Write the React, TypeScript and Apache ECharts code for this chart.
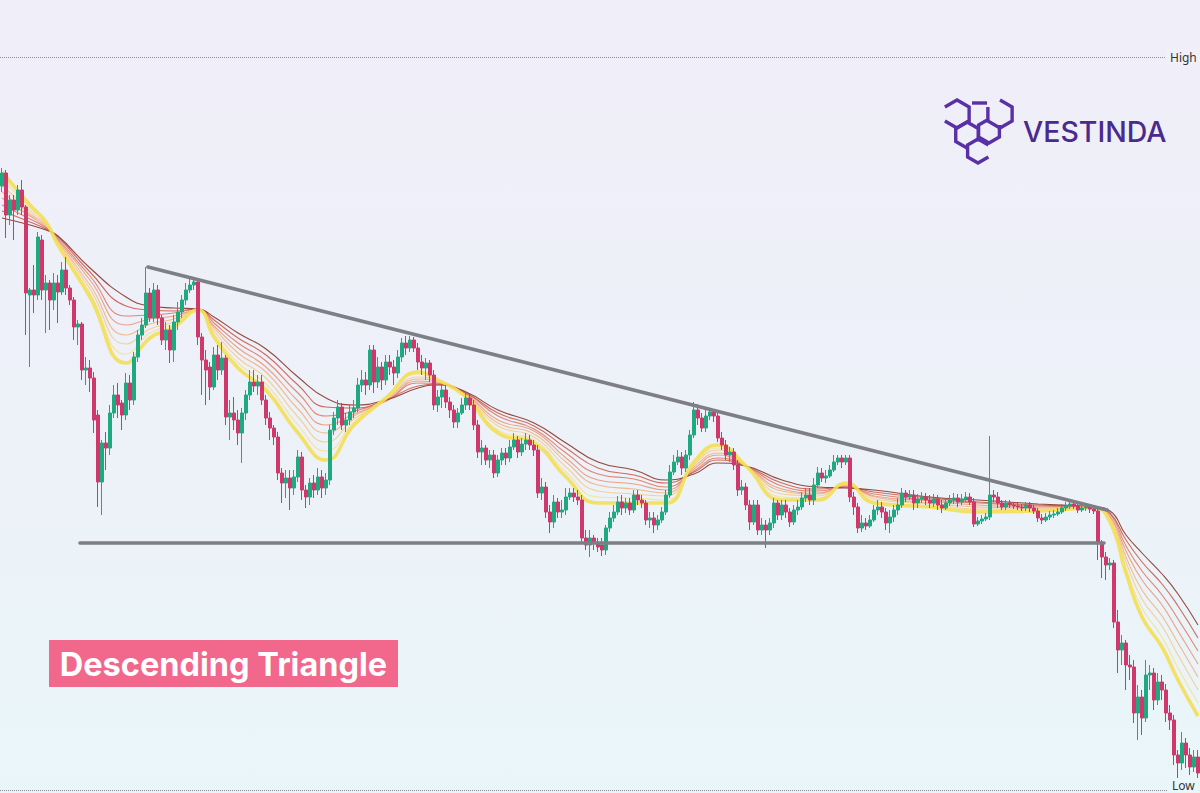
import React, { useEffect, useRef } from "react";
import * as echarts from "echarts";

// Candles: [open, close, low, high]
const segA: number[][] = [
  [814, 827, 808, 832], [827, 785, 762, 830], [785, 800, 775, 805], [800, 790, 760, 805], [790, 810, 785, 815],
  [810, 793, 785, 820], [793, 707, 665, 795], [705, 710, 633, 712], [710, 705, 687, 735], [705, 763, 700, 768],
  [760, 710, 700, 765], [710, 717, 667, 725], [717, 700, 670, 720], [700, 717, 690, 727], [717, 708, 677, 725],
  [708, 730, 705, 738], [730, 712, 705, 743], [712, 700, 695, 715], [700, 673, 660, 703], [673, 676, 655, 680],
  [676, 630, 620, 678], [630, 632, 615, 643], [632, 622, 608, 640], [622, 580, 567, 628], [585, 518, 493, 590],
  [518, 557, 485, 560], [557, 552, 530, 568], [552, 587, 545, 595], [587, 605, 582, 615], [605, 595, 582, 617],
  [597, 585, 570, 600], [585, 617, 580, 627], [617, 600, 590, 625], [600, 643, 595, 648], [643, 665, 638, 670],
  [665, 675, 660, 682], [675, 707, 672, 733], [707, 682, 678, 712], [682, 710, 678, 717], [710, 682, 675, 715],
  [682, 660, 655, 685], [660, 670, 650, 678], [670, 650, 637, 675], [650, 678, 638, 685], [678, 688, 670, 698],
  [688, 700, 682, 705], [700, 710, 695, 717], [710, 715, 707, 722], [715, 718, 710, 723], [718, 663, 655, 722],
];
const segB: number[][] = [
  [663, 640, 605, 667], [640, 630, 595, 650], [633, 613, 600, 638], [613, 645, 610, 653], [645, 630, 620, 655],
  [630, 642, 625, 658], [642, 583, 575, 645], [583, 587, 560, 600], [587, 580, 570, 603], [580, 567, 555, 590],
  [567, 587, 537, 592], [587, 605, 580, 610], [605, 618, 600, 630], [618, 614, 608, 630], [614, 618, 605, 625],
  [618, 600, 595, 625], [600, 582, 575, 605], [582, 572, 560, 588], [572, 563, 555, 575], [563, 527, 520, 568],
  [527, 517, 497, 532], [517, 522, 502, 530], [522, 512, 490, 530], [512, 523, 505, 530], [523, 543, 518, 550],
  [543, 510, 500, 548], [510, 503, 492, 515], [503, 517, 495, 522], [517, 510, 502, 525], [510, 523, 505, 532],
  [523, 512, 502, 530], [512, 520, 505, 527], [520, 570, 515, 575], [570, 582, 565, 588], [582, 593, 575, 600],
  [593, 575, 570, 597], [575, 580, 568, 587], [580, 588, 575, 595], [588, 592, 582, 600], [592, 615, 588, 622],
  [615, 620, 608, 630], [620, 615, 605, 628], [615, 650, 610, 655], [650, 618, 607, 655], [618, 633, 612, 643],
  [633, 620, 610, 638], [620, 638, 615, 645], [638, 633, 625, 645], [633, 627, 615, 640], [627, 643, 622, 650],
];
const segC: number[][] = [
  [643, 657, 638, 662], [657, 652, 645, 664], [652, 660, 648, 664], [660, 652, 648, 663], [652, 638, 630, 657],
  [638, 632, 625, 645], [632, 637, 620, 642], [637, 625, 618, 640], [625, 595, 590, 630], [595, 603, 588, 610],
  [603, 610, 592, 615], [610, 598, 592, 615], [598, 590, 582, 603], [590, 578, 572, 595], [578, 587, 572, 592],
  [587, 595, 585, 602], [595, 602, 590, 607], [602, 595, 590, 607], [595, 575, 570, 600], [575, 548, 542, 580],
  [548, 552, 535, 560], [552, 540, 535, 555], [540, 545, 532, 550], [545, 527, 522, 550], [527, 540, 523, 545],
  [540, 547, 535, 552], [547, 542, 535, 552], [542, 553, 538, 560], [553, 560, 550, 567], [560, 548, 542, 564],
  [548, 556, 544, 562], [556, 560, 550, 567], [560, 555, 550, 565], [555, 550, 544, 560], [550, 507, 502, 555],
  [507, 513, 500, 522], [513, 488, 482, 518], [488, 478, 467, 495], [478, 498, 472, 505], [498, 488, 482, 502],
  [488, 490, 482, 500], [490, 503, 485, 512], [503, 507, 500, 512], [507, 503, 498, 512], [503, 500, 495, 510],
  [500, 462, 457, 505], [462, 455, 450, 470], [455, 462, 443, 470], [462, 457, 450, 465], [457, 453, 448, 462],
];
const segD: number[][] = [
  [455, 450, 444, 462], [450, 472, 445, 475], [472, 482, 468, 488], [482, 488, 478, 495], [488, 498, 485, 504],
  [498, 492, 485, 505], [492, 497, 487, 502], [497, 490, 485, 502], [490, 505, 487, 510], [505, 500, 495, 510],
  [500, 497, 492, 505], [497, 480, 475, 500], [480, 482, 472, 488], [482, 475, 467, 488], [475, 480, 470, 485],
  [480, 488, 477, 493], [488, 505, 485, 510], [505, 528, 502, 535], [528, 538, 525, 545], [538, 543, 535, 550],
  [543, 532, 525, 548], [532, 545, 528, 550], [545, 565, 540, 570], [565, 590, 562, 598], [590, 582, 575, 596],
  [582, 572, 568, 587], [572, 584, 568, 590], [584, 588, 580, 592], [588, 584, 578, 589], [584, 562, 558, 588],
  [562, 555, 550, 568], [555, 545, 540, 560], [545, 548, 538, 553], [548, 535, 530, 552], [535, 510, 504, 540],
  [510, 513, 505, 520], [513, 495, 490, 517], [495, 478, 470, 500], [478, 495, 475, 500], [495, 470, 465, 500],
  [470, 475, 465, 482], [475, 470, 452, 480], [470, 477, 465, 482], [477, 497, 472, 502], [497, 485, 480, 500],
  [485, 495, 480, 500], [495, 488, 482, 500], [488, 478, 473, 492], [478, 490, 475, 495], [490, 493, 485, 500],
];
const segE: number[][] = [
  [493, 502, 490, 508], [502, 505, 498, 512], [505, 500, 495, 512], [500, 515, 495, 522], [515, 527, 512, 533],
  [527, 522, 518, 532], [522, 524, 517, 530], [524, 530, 522, 535], [530, 538, 528, 545], [538, 542, 535, 545],
  [542, 538, 532, 545], [538, 542, 535, 545], [542, 503, 498, 545], [503, 493, 485, 508], [493, 472, 467, 497],
  [472, 477, 468, 485], [477, 474, 470, 482], [474, 480, 472, 485], [480, 490, 478, 495], [490, 493, 485, 500],
  [493, 488, 482, 498], [488, 477, 470, 492], [477, 483, 467, 490], [483, 490, 478, 495], [490, 495, 485, 502],
  [495, 507, 492, 512], [507, 503, 498, 510], [503, 505, 500, 510], [505, 497, 490, 510], [497, 501, 492, 506],
  [501, 503, 497, 508], [503, 500, 495, 507], [500, 497, 492, 505], [497, 501, 493, 506], [501, 495, 490, 505],
  [495, 492, 487, 500], [492, 497, 490, 502], [497, 500, 494, 505], [500, 502, 496, 507], [502, 498, 493, 506],
  [498, 501, 495, 506], [501, 503, 498, 508], [503, 498, 495, 507], [498, 476, 473, 502], [476, 479, 474, 483],
  [479, 481, 476, 485], [481, 483, 479, 487], [483, 505, 480, 564], [505, 503, 498, 510], [503, 497, 492, 508],
];
const segF: number[][] = [
  [497, 493, 490, 500], [493, 497, 490, 500], [497, 495, 492, 500], [495, 494, 491, 498], [494, 493, 490, 497],
  [493, 492, 489, 496], [492, 495, 489, 498], [495, 492, 488, 498], [492, 489, 486, 495], [489, 482, 478, 492],
  [482, 480, 476, 486], [480, 483, 478, 487], [483, 485, 480, 489], [485, 486, 482, 490], [486, 488, 484, 492],
  [488, 492, 486, 496], [492, 494, 489, 498], [494, 496, 491, 499], [496, 494, 491, 500], [494, 490, 487, 497],
  [490, 492, 488, 496], [492, 493, 489, 496], [493, 491, 487, 496], [491, 489, 486, 494], [489, 457, 440, 492],
  [457, 443, 422, 460], [443, 435, 420, 448], [435, 437, 430, 442], [437, 378, 372, 440], [378, 350, 327, 390],
  [350, 357, 335, 365], [357, 335, 310, 360], [335, 333, 320, 345], [333, 287, 277, 340], [287, 303, 260, 315],
  [303, 282, 265, 310], [282, 325, 278, 340], [325, 327, 310, 335], [327, 300, 290, 332], [300, 318, 295, 327],
  [318, 310, 300, 325], [310, 287, 278, 316], [287, 280, 270, 295], [280, 245, 235, 285], [245, 237, 218, 250],
  [237, 257, 230, 268], [257, 245, 232, 262], [245, 233, 225, 252], [233, 243, 228, 250], [243, 227, 215, 250],
];

// Moving-average ribbon, read at these candle indices (fast -> slow)
const ribbonX = [0, 7, 11, 14, 22, 31, 37, 43, 49, 53, 59, 66, 74, 81, 88, 96, 104, 109, 116, 124, 133, 141, 149, 158, 166, 173, 179, 186, 195, 204, 211, 218, 232, 244, 259, 273, 277, 281, 285, 290, 294, 299];
const ma1 = [828, 795, 778, 755, 703, 637, 662, 673, 690, 663, 632, 610, 567, 540, 575, 602, 628, 620, 603, 567, 557, 523, 497, 497, 497, 538, 555, 534, 500, 500, 517, 497, 493, 488, 489, 492, 478, 427, 383, 353, 320, 284];
const ma2 = [821, 792, 777, 756, 707, 646, 667, 676, 690, 666, 637, 616, 575, 549, 578, 601, 626, 619, 604, 570, 560, 528, 503, 502, 500, 536, 552, 534, 503, 502, 516, 499, 494, 490, 490, 492, 480, 432, 392, 363, 332, 297];
const ma3 = [815, 789, 776, 758, 711, 656, 671, 678, 690, 669, 642, 622, 583, 558, 581, 600, 623, 619, 604, 574, 563, 533, 509, 506, 504, 535, 550, 534, 506, 504, 516, 501, 496, 491, 491, 492, 481, 438, 401, 374, 345, 310];
const ma4 = [808, 786, 775, 759, 715, 665, 676, 681, 690, 672, 647, 628, 591, 567, 584, 600, 621, 618, 605, 577, 566, 538, 515, 511, 507, 533, 547, 534, 509, 506, 515, 503, 497, 493, 492, 492, 483, 443, 410, 384, 357, 323];
const ma5 = [802, 784, 773, 760, 720, 675, 681, 684, 690, 674, 652, 633, 599, 575, 586, 599, 619, 617, 606, 580, 569, 542, 520, 516, 510, 531, 545, 534, 511, 507, 514, 504, 499, 495, 493, 493, 484, 449, 420, 395, 369, 336];
const ma6 = [795, 781, 772, 761, 724, 684, 685, 687, 691, 677, 657, 639, 607, 584, 589, 599, 617, 616, 607, 584, 571, 547, 526, 521, 513, 529, 542, 534, 514, 509, 513, 506, 500, 497, 494, 493, 486, 454, 429, 405, 381, 349];
const ma7 = [789, 778, 771, 763, 728, 694, 690, 689, 691, 680, 662, 645, 615, 593, 592, 600, 614, 616, 607, 587, 574, 552, 532, 525, 517, 528, 540, 534, 517, 511, 513, 508, 502, 498, 495, 493, 487, 460, 438, 416, 394, 362];
const ma8 = [782, 775, 770, 764, 732, 703, 694, 692, 691, 683, 667, 651, 623, 602, 595, 600, 612, 615, 608, 590, 577, 557, 538, 530, 520, 526, 537, 534, 520, 513, 512, 510, 503, 500, 496, 493, 489, 465, 447, 426, 406, 375];
const ribbonColors = ["#F3DF55", "#F5E29C", "#F4CD92", "#F1B688", "#EC9C7E", "#E2806C", "#CC6352", "#8E3E33"];

// Pattern lines: [candle index, price]
const resistanceLine = [[36.5, 733], [276.25, 490]];
const supportLine = [[19.5, 457], [275.5, 457]];
const rangeHigh = 943;
const rangeLow = 210;

export default function App() {
  const ref = useRef<HTMLDivElement>(null);
  useEffect(() => {
    if (!ref.current) return;
    const chart = echarts.init(ref.current, undefined, { renderer: "svg" });
    const candles = [...segA, ...segB, ...segC, ...segD, ...segE, ...segF];
    const cats = candles.map((_, i) => String(i + 1));
    const mas = [ma1, ma2, ma3, ma4, ma5, ma6, ma7, ma8];
    const n = candles.length;

    const hex = (cx: number, cy: number, r: number, skip: number) => {
      const pts: number[][] = [];
      for (let k = 0; k < 6; k++) {
        const idx = (k + skip + 1) % 6;
        const a = (Math.PI / 3) * idx + Math.PI / 6;
        pts.push([cx + r * Math.cos(a), cy + r * Math.sin(a)]);
      }
      return {
        type: "polyline",
        shape: { points: pts },
        style: { stroke: "#5A30A6", lineWidth: 3.4, fill: "none", lineCap: "butt", lineJoin: "miter" },
      };
    };

    chart.setOption({
      animation: false,
      grid: { left: 0, right: 0, top: 0, bottom: 0 },
      xAxis: [
        { type: "category", data: cats, show: false, boundaryGap: true },
        { type: "value", min: -0.5, max: n - 0.5, show: false },
      ],
      yAxis: { type: "value", min: 207, max: 1000, show: false, splitLine: { show: false } },
      series: [
        ...mas.map((m, j) => ({
          type: "line",
          xAxisIndex: 1,
          data: ribbonX.map((x, k) => [x, m[k]]),
          smooth: 0.5,
          showSymbol: false,
          silent: true,
          z: j === 0 ? 3 : 2,
          lineStyle: { color: ribbonColors[j], width: j === 0 ? 3.6 : 1.1, opacity: j === 0 ? 0.9 : 0.95 },
        })),
        {
          type: "candlestick",
          xAxisIndex: 0,
          data: candles,
          barWidth: 2.6,
          z: 4,
          itemStyle: {
            color: "#1FA981",
            color0: "#CF386A",
            borderColor: "#1FA981",
            borderColor0: "#CF386A",
            borderWidth: 1,
          },
          markLine: {
            silent: true,
            symbol: ["none", "none"],
            label: { show: false },
            lineStyle: { type: "dotted", color: "#8C8C95", width: 1 },
            data: [{ yAxis: rangeHigh }, { yAxis: rangeLow }],
          },
        },
        {
          type: "line",
          xAxisIndex: 1,
          data: resistanceLine,
          showSymbol: false,
          silent: true,
          z: 6,
          lineStyle: { color: "#7E7E87", width: 3.6, cap: "round" },
        },
        {
          type: "line",
          xAxisIndex: 1,
          data: supportLine,
          showSymbol: false,
          silent: true,
          z: 6,
          lineStyle: { color: "#7E7E87", width: 3.6, cap: "round" },
        },
      ],
      graphic: [
        {
          type: "text",
          x: 1166,
          y: 57,
          z: 10,
          style: {
            text: "High",
            fill: "#333",
            font: "12px 'Noto Sans', sans-serif",
            backgroundColor: "#F1F0FA",
            padding: [2, 4],
            verticalAlign: "middle",
            textVerticalAlign: "middle",
          },
        },
        {
          type: "text",
          x: 1168,
          y: 785,
          z: 10,
          style: {
            text: "Low",
            fill: "#333",
            font: "12px 'Noto Sans', sans-serif",
            backgroundColor: "#EAF6F8",
            padding: [1, 4],
            verticalAlign: "middle",
            textVerticalAlign: "middle",
          },
        },
        {
          type: "group",
          z: 10,
          children: [
            hex(957, 114, 14, 2),
            hex(1000, 114, 14, 3),
            hex(967, 135, 13, 0),
            hex(989, 131, 12, 4),
            hex(978, 151, 12, 5),
            { type: "line", shape: { x1: 972, y1: 103, x2: 987, y2: 103 }, style: { stroke: "#5A30A6", lineWidth: 3.4 } },
          ],
        },
        {
          type: "text",
          x: 1023,
          y: 131,
          z: 10,
          style: {
            text: "VESTINDA",
            fill: "#4B2A8F",
            font: "500 28.5px Inter, sans-serif",
            verticalAlign: "middle",
            textVerticalAlign: "middle",
          },
        },
        {
          type: "rect",
          z: 10,
          shape: { x: 49, y: 640, width: 349, height: 47 },
          style: { fill: "#F2678C" },
        },
        {
          type: "text",
          x: 223.5,
          y: 664,
          z: 11,
          style: {
            text: "Descending Triangle",
            fill: "#FFFFFF",
            font: "700 32.5px Inter, sans-serif",
            align: "center",
            textAlign: "center",
            verticalAlign: "middle",
            textVerticalAlign: "middle",
          },
        },
      ],
    });
    return () => chart.dispose();
  }, []);

  return (
    <div
      style={{
        position: "fixed",
        left: 0,
        top: 0,
        width: 1200,
        height: 793,
        background: "linear-gradient(180deg, #F0EEF9 0%, #EDF1F8 50%, #E9F6F8 100%)",
      }}
    >
      <div ref={ref} style={{ width: 1200, height: 793 }} />
    </div>
  );
}
